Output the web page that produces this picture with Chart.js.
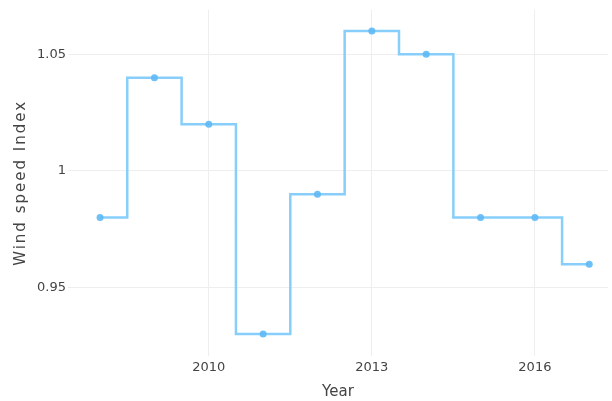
<!DOCTYPE html>
<html>
<head>
<meta charset="utf-8">
<script src="https://cdn.jsdelivr.net/npm/chart.js@4"></script>
<style>
  html, body { margin: 0; padding: 0; background: #fff; }
  #wrap { width: 612px; height: 401px; }
</style>
</head>
<body>
<div id="wrap"><canvas id="myChart" width="612" height="401"></canvas></div>
<script>
const years = [2008, 2009, 2010, 2011, 2012, 2013, 2014, 2015, 2016, 2017];
const windIndex = [0.98, 1.04, 1.02, 0.93, 0.99, 1.06, 1.05, 0.98, 0.98, 0.96];
const xTicks = [2010, 2013, 2016];
const yTicks = [0.95, 1, 1.05];

const colors = {
  line: "rgba(135, 206, 250, 1)",
  point: "rgba(95, 185, 245, 0.9)",
  grid: "#eeeeee",
  text: "#444444"
};

const tickFont = { family: "'DejaVu Sans', Verdana, sans-serif", size: 13 };
const titleFont = { family: "'DejaVu Sans', Verdana, sans-serif", size: 15 };

const ctx = document.getElementById("myChart").getContext("2d");

const data = {
  datasets: [
    {
      label: "Wind speed Index",
      data: years.map((y, i) => ({ x: y, y: windIndex[i] })),
      stepped: "middle",
      borderColor: colors.line,
      borderWidth: 2.5,
      pointBackgroundColor: colors.point,
      pointBorderWidth: 0,
      pointRadius: 3.5,
      fill: false
    }
  ]
};

const options = {
  responsive: false,
  animation: false,
  layout: { padding: { top: 7, right: 0, left: 0, bottom: 0 } },
  plugins: { legend: { display: false }, tooltip: { enabled: false } },
  scales: {
    x: {
      type: "linear",
      min: 2007.41,
      max: 2017.345,
      afterBuildTicks: (axis) => { axis.ticks = xTicks.map(v => ({ value: v })); },
      afterFit: (axis) => { axis.height = 45; },
      grid: { color: colors.grid, drawTicks: false },
      border: { display: false },
      ticks: { color: colors.text, font: tickFont, padding: 4, maxRotation: 0, callback: v => String(v) },
      title: { display: true, text: "Year", color: colors.text, font: titleFont, padding: { top: 3, bottom: 0 } }
    },
    y: {
      min: 0.9206,
      max: 1.0691,
      afterBuildTicks: (axis) => { axis.ticks = yTicks.map(v => ({ value: v })); },
      afterFit: (axis) => {
        axis.width = 68;
        // the y title in the reference is spread out wider than the font alone gives
        const drawTitle = Object.getPrototypeOf(axis).drawTitle;
        axis.drawTitle = function () {
          this.ctx.letterSpacing = "2px";
          drawTitle.call(this);
          this.ctx.letterSpacing = "0px";
        };
      },
      grid: { color: colors.grid, drawTicks: false },
      border: { display: false },
      ticks: { color: colors.text, font: tickFont, padding: 2, callback: v => String(v) },
      title: { display: true, text: "Wind speed Index", color: colors.text, font: titleFont, padding: { top: 12, bottom: 0 } }
    }
  }
};

new Chart(ctx, { type: "line", data: data, options: options });
</script>
</body>
</html>
